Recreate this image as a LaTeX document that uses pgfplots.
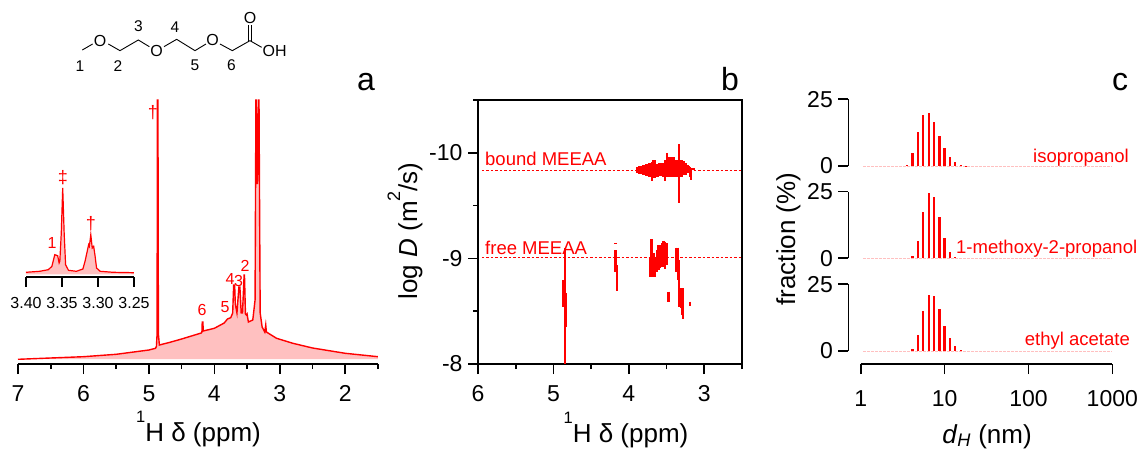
\documentclass[border=0pt]{standalone}
\usepackage{pgfplots}
\pgfplotsset{compat=1.18}
\usepackage{pgfplotstable}
\usepackage{fontspec}
\setmainfont{Liberation Sans}
\definecolor{rd}{HTML}{FF0000}
\definecolor{pk}{HTML}{FFC0C0}
\newcommand{\fs}[1]{\fontsize{#1}{#1}\selectfont}
\newcommand{\onehd}{\raisebox{19pt}{\fs{16.5}1}H δ (ppm)}
\pgfplotstableread[row sep=\\]{
7 4.7\\6 7.3\\5.5 9.7\\5 14\\4.9 15.7\\4.885 17.5\\4.875 30\\4.87 264\\4.862 264\\4.855 30\\4.84 19\\4.7 21.3\\4.5 25\\4.3 29\\4.2 31\\4.19 32\\4.185 42\\4.175 42\\4.17 33\\4.0 35.7\\3.85 41\\3.8 45\\3.75 46.3\\3.72 51\\3.705 79\\3.69 79\\3.68 60\\3.655 51\\3.625 77\\3.61 77\\3.59 51\\3.57 51\\3.545 89\\3.54 89\\3.525 50\\3.51 49\\3.5 50\\3.48 42\\3.413 44\\3.378 64\\3.365 264\\3.358 264\\3.342 180\\3.325 264\\3.318 264\\3.30 51\\3.27 37\\3.23 32\\3.215 39\\3.205 32\\3.05 25.7\\3.0 24.7\\2.8 20.7\\2.5 16\\2.0 10.7\\1.5 7.3\\
}\spec
\pgfplotstableread[row sep=\\]{
3.400 4.7\\3.381 5.7\\3.369 7.3\\3.364 10.7\\3.360 22.3\\3.356 21.3\\3.354 14\\3.353 15.7\\3.351 44\\3.349 89\\3.347 44\\3.345 12.3\\3.341 6.7\\3.330 5.7\\3.321 8\\3.318 15.7\\3.316 22.3\\3.313 32.3\\3.312 30.7\\3.310 42.3\\3.308 29\\3.306 30.7\\3.304 20.7\\3.302 9\\3.297 5.7\\3.279 4.7\\3.250 4.3\\
}\inset
\pgfplotsset{
  base/.style={scale only axis, clip=true,
    axis line style={black,line width=1.6pt},
    every tick/.append style={black,line width=1.6pt},
    tick label style={font=\fs{23}},
    /pgf/number format/assume math mode=true,
    /pgf/number format/1000 sep={},
    xtick pos=lower, ytick pos=left, tick align=outside,
    major tick length=10pt, minor tick length=5pt},
  bars/.style={ycomb, rd, line width=2.4pt, no markers},
  cax/.style={base, width=264pt, height=66.7pt,
    xmin=0.711, xmax=1000, ymin=0, ymax=25,
    axis y line*=left, hide x axis, ytick={0,25}, minor y tick num=0, clip=false,
    yticklabel style={xshift=-2pt}},
  zero/.style={pk, line width=0.7pt, dash pattern=on 2.5pt off 1.5pt},
}
\begin{document}
\begin{tikzpicture}
\useasboundingbox (0,0) rectangle (1140pt,450pt);

% ---- panel a
\begin{axis}[base, at={(18pt,86pt)}, anchor=south west, width=360pt, height=264pt,
  x dir=reverse, xmin=1.5, xmax=7, ymin=0, ymax=264,
  axis x line*=bottom, hide y axis, xtick={2,3,4,5,6,7},
  minor xtick={1.5,2.5,3.5,4.5,5.5,6.5}, xticklabel style={yshift=-8pt}]
\addplot[fill=pk, draw=none] table {\spec} -- (axis cs:1.5,5) -- (axis cs:7,5) -- cycle;
\addplot[rd, line width=1.4pt, no markers] table {\spec};
\end{axis}

% ---- inset
\begin{axis}[base, at={(26pt,173pt)}, anchor=south west, width=108pt, height=100pt,
  x dir=reverse, xmin=3.25, xmax=3.40, ymin=0, ymax=100,
  axis x line*=bottom, hide y axis, xtick={3.25,3.30,3.35,3.40},
  xticklabels={3.25,3.30,3.35,3.40}, tick label style={font=\fs{16}}, xticklabel style={yshift=-7pt}]
\addplot[fill=pk, draw=none] table {\inset} -- (axis cs:3.25,2.5) -- (axis cs:3.40,2.5) -- cycle;
\addplot[rd, line width=1.2pt, no markers] table {\inset};
\end{axis}

% ---- panel b
\begin{axis}[base, at={(478pt,86pt)}, anchor=south west, width=264pt, height=264pt,
  x dir=reverse, y dir=reverse, xmin=2.5, xmax=6, ymin=-10.5, ymax=-8,
  xtick={3,4,5,6}, minor xtick={2.5,3.5,4.5,5.5},
  ytick={-10,-9,-8}, yticklabels={-10,-9,-8}, minor ytick={-10.5,-9.5,-8.5},
  unbounded coords=jump, yticklabel style={xshift=-2pt}, xticklabel style={yshift=-8pt}]
\addplot[rd, line width=1pt, dash pattern=on 2.5pt off 2pt] coordinates {(5.947,-9.836)(2.5,-9.836)};
\addplot[rd, line width=1pt, dash pattern=on 2.5pt off 2pt] coordinates {(5.947,-9.013)(2.5,-9.013)};
% bound species
\addplot[rd, line width=3.6pt, no markers] table[row sep=\\] {
3.885 -9.861\\3.885 -9.811\\nan nan\\3.850 -9.874\\3.850 -9.798\\nan nan\\3.806 -9.883\\3.806 -9.789\\nan nan\\
3.762 -9.890\\3.762 -9.782\\nan nan\\3.717 -9.899\\3.717 -9.767\\nan nan\\3.664 -9.931\\3.664 -9.757\\nan nan\\
3.629 -9.893\\3.629 -9.773\\nan nan\\3.585 -9.899\\3.585 -9.779\\nan nan\\3.541 -9.905\\3.541 -9.773\\nan nan\\
3.475 -9.931\\3.475 -9.773\\nan nan\\3.453 -9.956\\3.453 -9.773\\nan nan\\3.430 -9.956\\3.430 -9.773\\nan nan\\
3.408 -9.956\\3.408 -9.779\\nan nan\\3.377 -9.931\\3.377 -9.773\\nan nan\\3.311 -9.931\\3.311 -9.773\\nan nan\\
3.285 -9.921\\3.285 -9.789\\nan nan\\3.254 -9.899\\3.254 -9.789\\nan nan\\3.232 -9.883\\3.232 -9.804\\nan nan\\
3.210 -9.874\\3.210 -9.804\\nan nan\\
};
\addplot[rd, line width=2.2pt, no markers] table[row sep=\\] {
3.695 -9.915\\3.695 -9.735\\nan nan\\3.519 -9.931\\3.519 -9.735\\nan nan\\3.497 -10.0\\3.497 -9.773\\nan nan\\
3.338 -10.082\\3.338 -9.527\\nan nan\\3.188 -9.861\\3.188 -9.773\\nan nan\\3.174 -9.836\\3.174 -9.741\\nan nan\\
3.21 -9.85\\3.12 -9.85\\nan nan\\
};
% free species
\addplot[rd, line width=2pt, no markers] table[row sep=\\] {
4.85 -9.095\\4.85 -8\\nan nan\\4.868 -8.795\\4.868 -8.543\\nan nan\\4.836 -8.669\\4.836 -8.353\\nan nan\\
};
\addplot[rd, line width=2.6pt, no markers] table[row sep=\\] {
4.181 -9.148\\4.181 -9.136\\nan nan\\4.181 -9.079\\4.181 -8.874\\nan nan\\4.155 -8.937\\4.155 -8.694\\nan nan\\
3.475 -8.685\\3.475 -8.590\\nan nan\\3.373 -9.101\\3.373 -8.874\\nan nan\\3.351 -9.101\\3.351 -8.795\\nan nan\\
3.333 -8.984\\3.333 -8.543\\nan nan\\3.311 -8.716\\3.311 -8.527\\nan nan\\3.289 -8.716\\3.289 -8.464\\nan nan\\
3.280 -8.511\\3.280 -8.423\\nan nan\\3.188 -8.590\\3.188 -8.552\\nan nan\\
};
\addplot[rd, line width=2.4pt, no markers] table[row sep=\\] {
3.717 -9.016\\3.717 -8.826\\nan nan\\3.700 -9.180\\3.700 -8.826\\nan nan\\3.673 -9.047\\3.673 -8.826\\nan nan\\
3.651 -9.016\\3.651 -8.826\\nan nan\\3.629 -9.079\\3.629 -8.874\\nan nan\\3.607 -9.126\\3.607 -8.890\\nan nan\\
3.585 -9.126\\3.585 -8.905\\nan nan\\3.563 -9.142\\3.563 -8.921\\nan nan\\3.541 -9.167\\3.541 -8.921\\nan nan\\
3.519 -9.158\\3.519 -8.896\\nan nan\\3.497 -9.142\\3.497 -8.937\\nan nan\\
};
\end{axis}

% ---- panel c
\begin{semilogxaxis}[cax, at={(848.3pt,284pt)}, anchor=south west]
\addplot[zero] coordinates {(1.07,0)(1000,0)};
\addplot[bars] coordinates {(3.57,0.5)(4.13,4.75)(4.78,12.9)(5.54,19.1)(6.47,20)(7.49,16.4)(8.67,11.4)(10.0,6.6)(11.6,3.4)(13.4,1.6)(15.6,0.5)(18.0,0.1)};
\end{semilogxaxis}
\begin{semilogxaxis}[cax, at={(848.3pt,191.7pt)}, anchor=south west]
\addplot[zero] coordinates {(1.07,0)(1000,0)};
\addplot[bars] coordinates {(4.13,0.9)(4.78,6.5)(5.54,17.4)(6.47,24.6)(7.49,22.9)(8.67,15.5)(10.0,7.6)(11.6,2.5)(13.4,0.6)};
\end{semilogxaxis}
\begin{semilogxaxis}[cax, at={(848.3pt,99pt)}, anchor=south west]
\addplot[zero] coordinates {(1.07,0)(1000,0)};
\addplot[bars] coordinates {(4.13,0.9)(4.78,5.9)(5.54,14.9)(6.47,21)(7.49,20.6)(8.67,15.6)(10.0,9.5)(11.6,4.75)(13.4,1.9)(15.6,0.4)};
\end{semilogxaxis}
\begin{semilogxaxis}[base, at={(860.7pt,86pt)}, anchor=south west, width=251.6pt, height=10pt,
  xmin=1, xmax=1000, ymin=0, ymax=1,
  axis x line*=bottom, hide y axis, xtick={1,10,100,1000},
  xticklabels={1,10,100,1000}, xminorticks=false, xticklabel style={yshift=-13pt}]
\addplot[draw=none] coordinates {(1,0)(1000,1)};
\end{semilogxaxis}

% ---- texts: panel letters
\node[anchor=base,font=\fs{32}] at (366pt,359pt) {a};
\node[anchor=base,font=\fs{32}] at (730pt,359pt) {b};
\node[anchor=base,font=\fs{32}] at (1120pt,359pt) {c};
% axis titles
\node[anchor=base,font=\fs{26}] at (198.5pt,9pt) {\onehd};
\node[anchor=base,font=\fs{26}] at (626pt,8pt) {\onehd};
\node[anchor=base,font=\fs{26}] at (987pt,7pt) {\textit{d}\textsubscript{\textit{H}} (nm)};
\node[anchor=base,font=\fs{26},rotate=90] at (417pt,219pt) {log \textit{D} (m\raisebox{17pt}{\fs{18}2}/s)};
\node[anchor=base,font=\fs{26},rotate=90] at (795pt,211pt) {fraction (\%)};
% red labels
\begin{scope}[rd,inner sep=0pt]
\node[anchor=base west,font=\fs{18.5}] at (485pt,284pt) {bound MEEAA};
\node[anchor=base west,font=\fs{18.5}] at (485pt,195pt) {free MEEAA};
\node[anchor=base east,font=\fs{18.5}] at (1129pt,287pt) {isopropanol};
\node[anchor=base west,font=\fs{18.5}] at (956pt,196pt) {1-methoxy-2-propanol};
\node[anchor=base east,font=\fs{18.5}] at (1130pt,105pt) {ethyl acetate};
\node[font=\fs{18}] at (153pt,337pt) {†};
\node[font=\fs{16}] at (202pt,140pt) {6};
\node[font=\fs{16}] at (225pt,143pt) {5};
\node[font=\fs{16}] at (230pt,171pt) {4};
\node[font=\fs{16}] at (238.5pt,169pt) {3};
\node[font=\fs{16}] at (245pt,184pt) {2};
\node[font=\fs{16}] at (52pt,207pt) {1};
\node[font=\fs{18}] at (63pt,272pt) {‡};
\node[font=\fs{18}] at (91pt,226pt) {†};
\end{scope}
% molecule
\begin{scope}[shift={(0pt,450pt)},x=0.3333pt,y=-0.3333pt,line width=0.9pt,black]
\draw (247,150)--(278,132);
\draw (325,132)--(360,152)--(415,120)--(448,140);
\draw (492,140)--(530,118)--(585,152)--(618,132);
\draw (660,132)--(697,152)--(750,122)--(785,142);
\draw (745,122)--(745,75);
\draw (755,122)--(755,75);
\node[font=\fs{16}] at (300,122) {O};
\node[font=\fs{16}] at (470,153) {O};
\node[font=\fs{16}] at (638,120) {O};
\node[font=\fs{16}] at (750,53) {O};
\node[font=\fs{16}] at (824,154) {OH};
\node[font=\fs{15.5}] at (240,198) {1};
\node[font=\fs{15.5}] at (354,198) {2};
\node[font=\fs{15.5}] at (415,80) {3};
\node[font=\fs{15.5}] at (525,82) {4};
\node[font=\fs{15.5}] at (585,195) {5};
\node[font=\fs{15.5}] at (694,195) {6};
\end{scope}
\end{tikzpicture}
\end{document}
